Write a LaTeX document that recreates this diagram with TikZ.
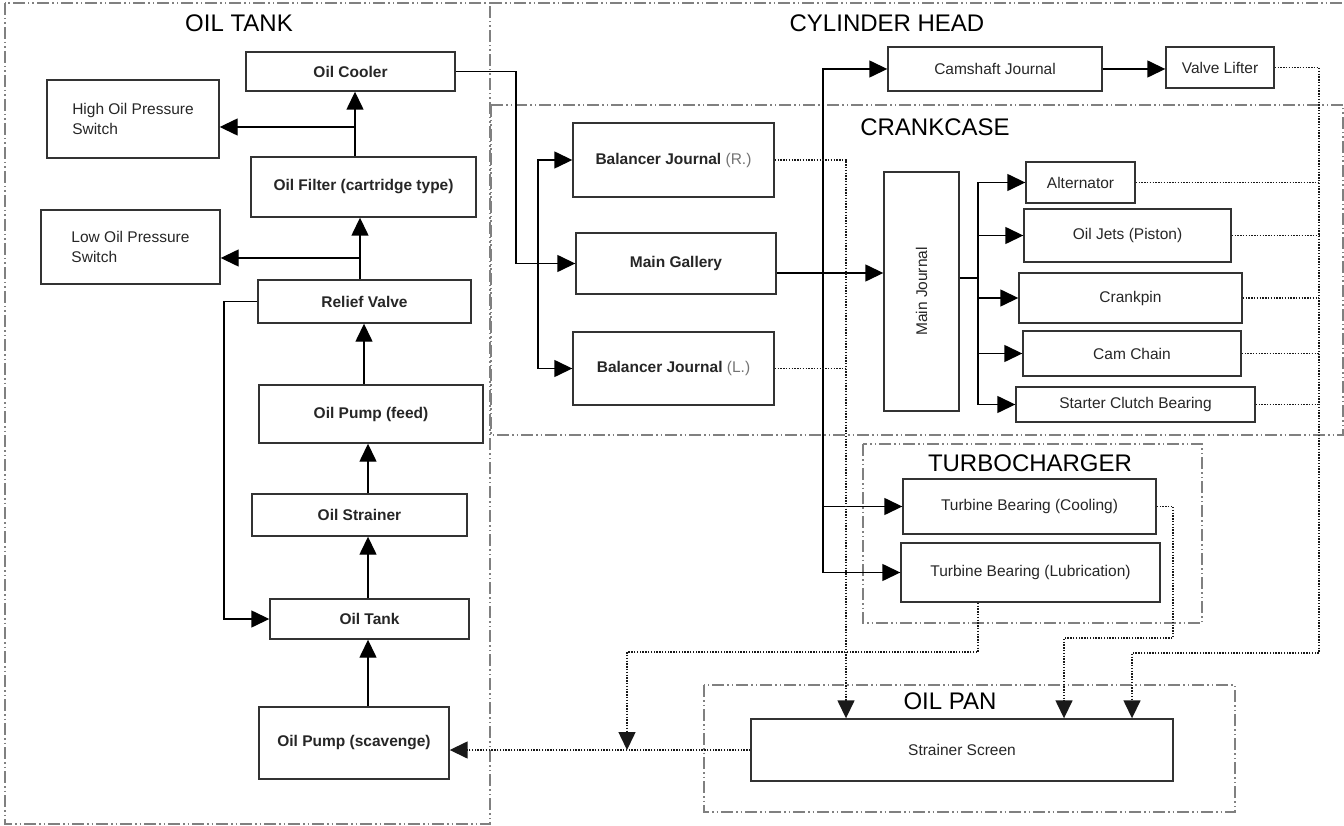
\documentclass[tikz,border=0pt]{standalone}
\usepackage{graphicx}
\usepackage{fontspec}
\setmainfont{Liberation Sans}
\usetikzlibrary{arrows.meta,positioning}

\begin{document}
\begin{tikzpicture}[x=1pt,y=-1pt,font=\fontsize{15.5}{19.5}\selectfont,
  box/.style={draw=black!80,line width=1.4pt,inner sep=0pt,align=center,text=black!85},
  sz/.style 2 args={minimum width=#1pt,minimum height=#2pt},
  wire/.style={line width=1.4pt},
  arr/.style={wire,-{Triangle[length=18pt,width=17pt]}},
  dotline/.style={draw=black!90,line width=1.5pt,dash pattern=on 1.4pt off 1.4pt},
  dotarr/.style={dotline,-{Triangle[length=18pt,width=17pt]}},
  zone/.style={draw=black!50,line width=1.5pt,dash pattern=on 12pt off 3pt on 1.5pt off 3pt on 1.5pt off 3pt},
  ttl/.style={font=\fontsize{24}{28}\selectfont}]
\useasboundingbox (0,0) rectangle (1344,826);

% zones
\draw[zone] (5,3) rectangle (490,824);
\draw[zone] (490,3) -- (1344,3);
\draw[zone] (491,105) rectangle (1343,435);
\draw[zone] (863,444) rectangle (1202,623);
\draw[zone] (704,685) rectangle (1235,812);
\node[ttl] (tTank) at (239,23) {OIL TANK};
\node[ttl] (tHead) at (887,23) {CYLINDER HEAD};
\node[ttl] (tCase) at (935,127) {CRANKCASE};
\node[ttl] (tTurbo) at (1030,463) {TURBOCHARGER};
\node[ttl] (tPan) at (950,701) {OIL PAN};

% oil tank side
\node[box,sz={209}{39}] (cooler) at (350.5,71.5) {\bfseries Oil Cooler};
\node[box,align=left,sz={172}{78}] (hops) at (133,119) {High Oil Pressure\\Switch};
\node[box,sz={225}{60}] (filter) at (363.5,187) {\bfseries Oil Filter (cartridge type)};
\node[box,align=left,sz={179}{74}] (lops) at (130.5,247) {Low Oil Pressure\\Switch};
\node[box,sz={213}{43}] (relief) at (364.5,301.5) {\bfseries Relief Valve};
\node[box,sz={224}{58}] (feed) at (371,414) {\bfseries Oil Pump (feed)};
\node[box,sz={215}{42}] (strainer) at (359.5,515) {\bfseries Oil Strainer};
\node[box,sz={199}{40}] (tank) at (369.5,619) {\bfseries Oil Tank};
\node[box,sz={190}{72}] (scav) at (354,743) {\bfseries Oil Pump (scavenge)};

% engine side
\node[box,sz={201}{74}] (bjr) at (673.5,160) {\bfseries Balancer Journal {\mdseries\color{black!55}(R.)}};
\node[box,sz={200}{61}] (gallery) at (676,263.5) {\bfseries Main Gallery};
\node[box,sz={201}{73}] (bjl) at (673.5,368.5) {\bfseries Balancer Journal {\mdseries\color{black!55}(L.)}};
\node[box,sz={214}{44}] (cam) at (995,69) {Camshaft Journal};
\node[box,sz={108}{41}] (vl) at (1220,67.5) {Valve Lifter};
\node[box,sz={75}{239}] (mj) at (921.5,291.5) {\rotatebox{90}{Main Journal}};
\node[box,sz={109}{41}] (alt) at (1080.5,182.5) {Alternator};
\node[box,sz={207}{53}] (jets) at (1127.5,235.5) {Oil Jets (Piston)};
\node[box,sz={223}{50}] (pin) at (1130.5,298) {Crankpin};
\node[box,sz={218}{45}] (chain) at (1132,353.5) {Cam Chain};
\node[box,sz={239}{35}] (clutch) at (1135.5,404.5) {Starter Clutch Bearing};
\node[box,sz={253}{55}] (tbc) at (1029.5,506.5) {Turbine Bearing (Cooling)};
\node[box,sz={259}{59}] (tbl) at (1030.5,572.5) {Turbine Bearing (Lubrication)};
\node[box,sz={422}{62}] (screen) at (962,750) {Strainer Screen};

% feed circuit
\coordinate (jf) at (355,127);
\coordinate (jr) at (360,258);
\coordinate (cp) at (364,0);
\coordinate (cx) at (368,0);
\coordinate (rl) at (224,0);
\draw[arr] (filter.north -| jf) -- (cooler.south -| jf);
\draw[arr] (jf) -- (jf -| hops.east);
\draw[arr] (relief.north -| jr) -- (filter.south -| jr);
\draw[arr] (jr) -- (jr -| lops.east);
\draw[arr] (feed.north -| cp) -- (relief.south -| cp);
\draw[arr] (strainer.north -| cx) -- (feed.south -| cx);
\draw[arr] (tank.north -| cx) -- (strainer.south -| cx);
\draw[arr] (scav.north -| cx) -- (tank.south -| cx);
\draw[arr] (relief.west) -| (rl |- tank.west) -- (tank.west);

\coordinate (cg) at (516,0);
\coordinate (jb) at (538,0);
\coordinate (jg) at (823,273);
\coordinate (jm) at (978,278);
\draw[arr] (cooler.east) -| (cg |- gallery.west) -- (gallery.west);
\draw[arr] (jb |- gallery.west) |- (bjr.west);
\draw[arr] (jb |- gallery.west) |- (bjl.west);
\draw[arr] (gallery.east |- jg) -- (mj.west |- jg);
\draw[arr] (jg) |- (cam.west);
\draw[arr] (jg) |- (tbc.west);
\draw[arr] (jg) |- (tbl.west);
\draw[arr] (cam.east) -- (vl.west |- cam.east);
\draw[wire] (mj.east |- jm) -- (jm);
\foreach \n in {alt,jets,pin,chain,clutch}
  \draw[arr] (jm) |- (\n.west);

% return circuit
\coordinate (rb) at (846,0);
\coordinate (rr) at (1319,653);
\coordinate (ra) at (1132,653);
\coordinate (ca) at (1173,638);
\coordinate (cb) at (1064,638);
\coordinate (la) at (978,652);
\coordinate (lb) at (627,652);
\draw[dotarr] (bjr.east) -| (rb |- screen.north);
\draw[dotline] (bjl.east) -- (bjl.east -| rb);
\draw[dotarr] (vl.east) -| (rr) -- (ra) -- (ra |- screen.north);
\foreach \n in {alt,jets,pin,chain,clutch}
  \draw[dotline] (\n.east) -- (\n.east -| rr);
\draw[dotarr] (tbc.east) -| (ca) -- (cb) -- (cb |- screen.north);
\draw[dotarr] (tbl.south -| la) -- (la) -- (lb) -- (lb |- screen.west);
\draw[dotarr] (screen.west) -- (scav.east |- screen.west);
\end{tikzpicture}
\end{document}
